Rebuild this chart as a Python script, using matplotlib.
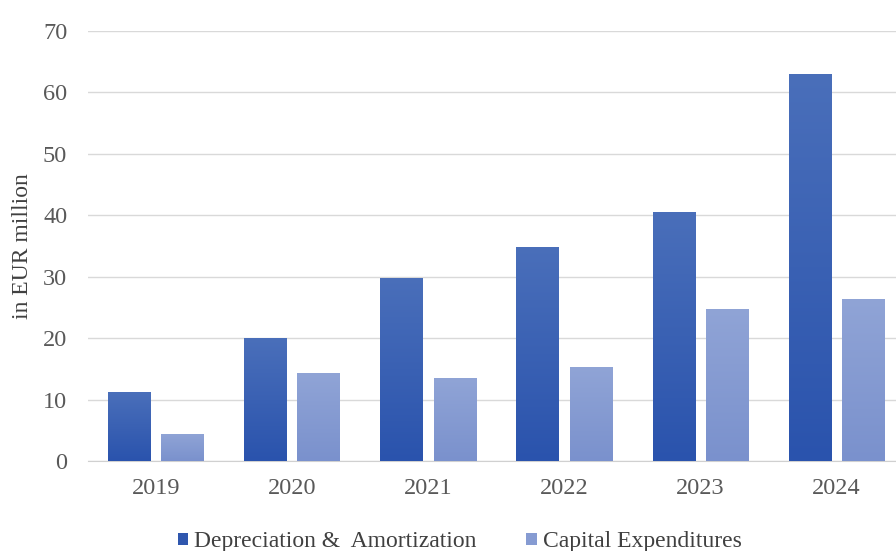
import numpy as np
import matplotlib.pyplot as plt
from matplotlib.colors import LinearSegmentedColormap
from matplotlib.patches import Patch

years = ["2019", "2020", "2021", "2022", "2023", "2024"]
dep_amort = [11.2, 20.0, 29.8, 34.9, 40.6, 63.0]
capex = [4.4, 14.3, 13.5, 15.3, 24.8, 26.4]

plt.rcParams["font.family"] = ["Liberation Serif", "DejaVu Serif"]

fig = plt.figure(figsize=(8.96, 5.51), dpi=100)
ax = fig.add_axes([0.0982, 0.1633, 0.9018, 0.7804])

x = np.arange(len(years))
w = 0.31
off = 0.195

def gradient_bars(ax, xs, vals, top_col, bot_col):
    bars = ax.bar(xs, vals, width=w, color="none", zorder=3)
    cmap = LinearSegmentedColormap.from_list("g", [bot_col, top_col])
    grad = np.linspace(0, 1, 256).reshape(-1, 1)
    for b in bars:
        x0, y0 = b.get_x(), b.get_y()
        im = ax.imshow(grad, cmap=cmap, aspect="auto", origin="lower",
                       extent=[x0, x0 + b.get_width(), y0, y0 + b.get_height()],
                       zorder=3)
        im.set_clip_path(b)
    return bars

gradient_bars(ax, x - off, dep_amort, "#4a6fba", "#2a53ad")
gradient_bars(ax, x + off, capex, "#90a4d6", "#7a91cd")

ax.set_xlim(-0.5, 5.44)
ax.set_ylim(0, 70)
ax.set_yticks(range(0, 71, 10))
ax.set_xticks(x)
ax.set_xticklabels(years)
ax.yaxis.grid(True, color="#d9d9d9", linewidth=1.0, zorder=0)
ax.set_axisbelow(True)
for s in ["top", "right", "left"]:
    ax.spines[s].set_visible(False)
ax.spines["bottom"].set_color("#d0d0d0")
ax.tick_params(axis="both", length=0, labelsize=17.5, labelcolor="#595959")
ax.tick_params(axis="x", pad=12)
ax.tick_params(axis="y", pad=15)
ax.set_ylabel("in EUR million", fontsize=17, color="#404040")
ax.yaxis.set_label_coords(-0.068, 0.5)

handles = [Patch(facecolor="#2f57ae", label="Depreciation &  Amortization"),
           Patch(facecolor="#869bd2", label="Capital Expenditures")]
fig.legend(handles=handles, loc="lower center", bbox_to_anchor=(0.513, -0.041),
           ncol=2, frameon=False, fontsize=17, handlelength=0.45,
           handleheight=0.45, handletextpad=0.25, columnspacing=2.1,
           labelcolor="#404040")

fig.savefig("out.png", dpi=100)
